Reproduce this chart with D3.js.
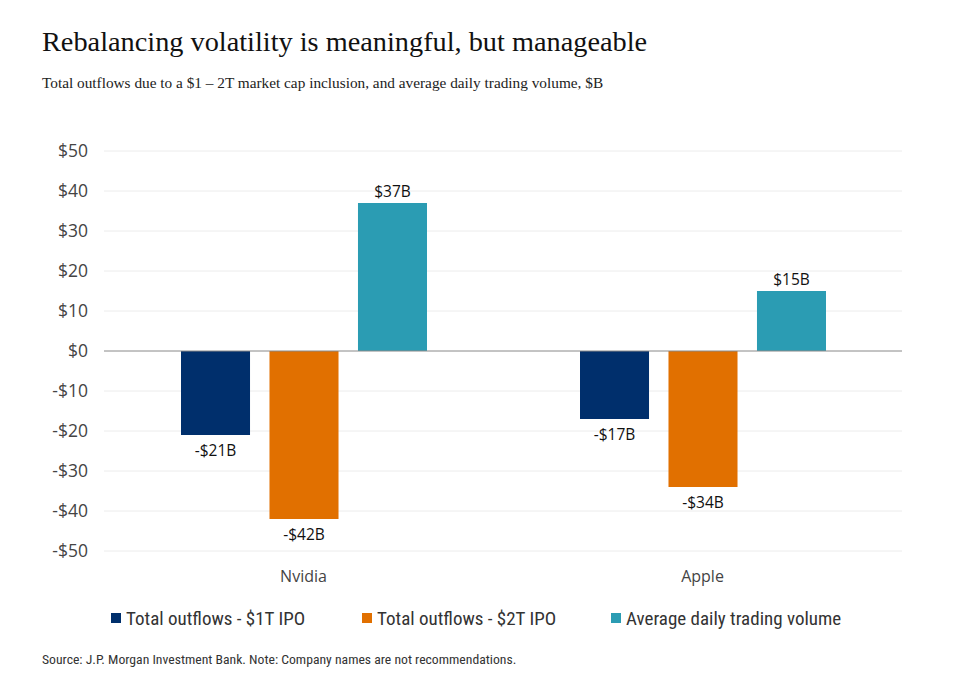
<!DOCTYPE html>
<html>
<head>
<meta charset="utf-8">
<script src="https://cdn.jsdelivr.net/npm/d3@7"></script>
<style>
  body { margin: 0; background: #fff; }
</style>
</head>
<body>
<div id="chart"></div>
<script>
// Chart data
const companies = ['Nvidia', 'Apple'];
const seriesNames = ['Total outflows - $1T IPO', 'Total outflows - $2T IPO', 'Average daily trading volume'];
const outflows1T = [-21, -17];
const outflows2T = [-42, -34];
const dailyVolume = [37, 15];
const yTicks = [50, 40, 30, 20, 10, 0, -10, -20, -30, -40, -50];
const colors = ['#002f6c', '#e17000', '#2b9cb3'];

const totalWidth = 975;
const totalHeight = 691;

// Plot area
const margin = { top: 151, right: 73, bottom: 140, left: 104 };
const plotWidth = totalWidth - margin.left - margin.right;
const plotHeight = totalHeight - margin.top - margin.bottom;

const svg = d3
    .select('#chart')
    .append('svg')
    .attr('width', totalWidth)
    .attr('height', totalHeight);

// Title and subtitle
svg.append('text')
    .attr('x', 42)
    .attr('y', 51)
    .style('font-family', '"Liberation Serif", "DejaVu Serif", serif')
    .style('font-size', '28.3px')
    .attr('fill', '#111')
    .text('Rebalancing volatility is meaningful, but manageable');

svg.append('text')
    .attr('x', 42)
    .attr('y', 88)
    .style('font-family', '"Liberation Serif", "DejaVu Serif", serif')
    .style('font-size', '15.3px')
    .attr('fill', '#222')
    .text('Total outflows due to a $1 \u2013 2T market cap inclusion, and average daily trading volume, $B');

const graph = svg.append('g')
    .attr('transform', `translate(${margin.left}, ${margin.top})`);

// Scales
const y = d3.scaleLinear().domain([-50, 50]).range([plotHeight, 0]);
const x0 = d3.scaleBand().domain(companies).range([0, plotWidth]);
const x1 = d3.scaleBand()
    .domain(seriesNames)
    .range([77, x0.bandwidth() - 76])
    .paddingInner(0.22);

// Gridlines
graph.selectAll('.grid')
    .data(yTicks.filter((t) => t !== 0))
    .enter()
    .append('line')
    .attr('x1', 0)
    .attr('x2', plotWidth)
    .attr('y1', (d) => y(d))
    .attr('y2', (d) => y(d))
    .attr('stroke', '#ececec')
    .attr('stroke-width', 1);

// Y axis labels
const yAxis = d3.axisLeft(y)
    .tickValues(yTicks)
    .tickSize(0)
    .tickPadding(16)
    .tickFormat((d) => (d < 0 ? '-$' + Math.abs(d) : '$' + d));
const yAxisGroup = graph.append('g').call(yAxis);
yAxisGroup.select('.domain').remove();
yAxisGroup.selectAll('text')
    .style('font-family', '"Open Sans", "Noto Sans", sans-serif')
    .style('font-size', '17.5px')
    .attr('fill', '#444');

// Bars
const bars = [];
companies.forEach((c, i) => {
    bars.push({ company: c, series: seriesNames[0], value: outflows1T[i], color: colors[0] });
    bars.push({ company: c, series: seriesNames[1], value: outflows2T[i], color: colors[1] });
    bars.push({ company: c, series: seriesNames[2], value: dailyVolume[i], color: colors[2] });
});

graph.selectAll('rect.bar')
    .data(bars)
    .enter()
    .append('rect')
    .attr('class', 'bar')
    .attr('x', (d) => x0(d.company) + x1(d.series))
    .attr('width', x1.bandwidth())
    .attr('y', (d) => y(Math.max(0, d.value)))
    .attr('height', (d) => Math.abs(y(d.value) - y(0)))
    .attr('fill', (d) => d.color);

// Zero line
graph.append('line')
    .attr('x1', 0)
    .attr('x2', plotWidth)
    .attr('y1', y(0))
    .attr('y2', y(0))
    .attr('stroke', '#888')
    .attr('stroke-width', 1);

// Value labels
graph.selectAll('text.value')
    .data(bars)
    .enter()
    .append('text')
    .attr('class', 'value')
    .attr('x', (d) => x0(d.company) + x1(d.series) + x1.bandwidth() / 2)
    .attr('y', (d) => (d.value >= 0 ? y(d.value) - 6 : y(d.value) + 21))
    .attr('text-anchor', 'middle')
    .style('font-family', '"Open Sans", "Noto Sans", sans-serif')
    .style('font-size', '15.5px')
    .attr('fill', '#111')
    .text((d) => (d.value < 0 ? '-$' + Math.abs(d.value) + 'B' : '$' + d.value + 'B'));

// Category labels
graph.selectAll('text.cat')
    .data(companies)
    .enter()
    .append('text')
    .attr('class', 'cat')
    .attr('x', (d) => x0(d) + x0.bandwidth() / 2)
    .attr('y', plotHeight + 31)
    .attr('text-anchor', 'middle')
    .style('font-family', '"Open Sans", "Noto Sans", sans-serif')
    .style('font-size', '16px')
    .attr('fill', '#444')
    .text((d) => d);

// Legend
const legendX = [111, 362, 611];
const legend = svg.selectAll('.legend')
    .data(seriesNames)
    .enter()
    .append('g')
    .attr('class', 'legend')
    .attr('transform', (d, i) => `translate(${legendX[i]}, 613)`);

legend.append('rect')
    .attr('width', 10)
    .attr('height', 10)
    .attr('fill', (d, i) => colors[i]);

legend.append('text')
    .attr('x', 15)
    .attr('y', 11.5)
    .style('font-family', '"Liberation Sans Narrow", "Roboto Condensed", Roboto, sans-serif')
    .style('font-size', '19px')
    .attr('fill', '#333')
    .text((d) => d);

// Source note
svg.append('text')
    .attr('x', 42)
    .attr('y', 664)
    .style('font-family', '"Liberation Sans Narrow", "Roboto Condensed", Roboto, sans-serif')
    .style('font-size', '13.7px')
    .attr('fill', '#333')
    .text('Source: J.P. Morgan Investment Bank. Note: Company names are not recommendations.');
</script>
</body>
</html>
